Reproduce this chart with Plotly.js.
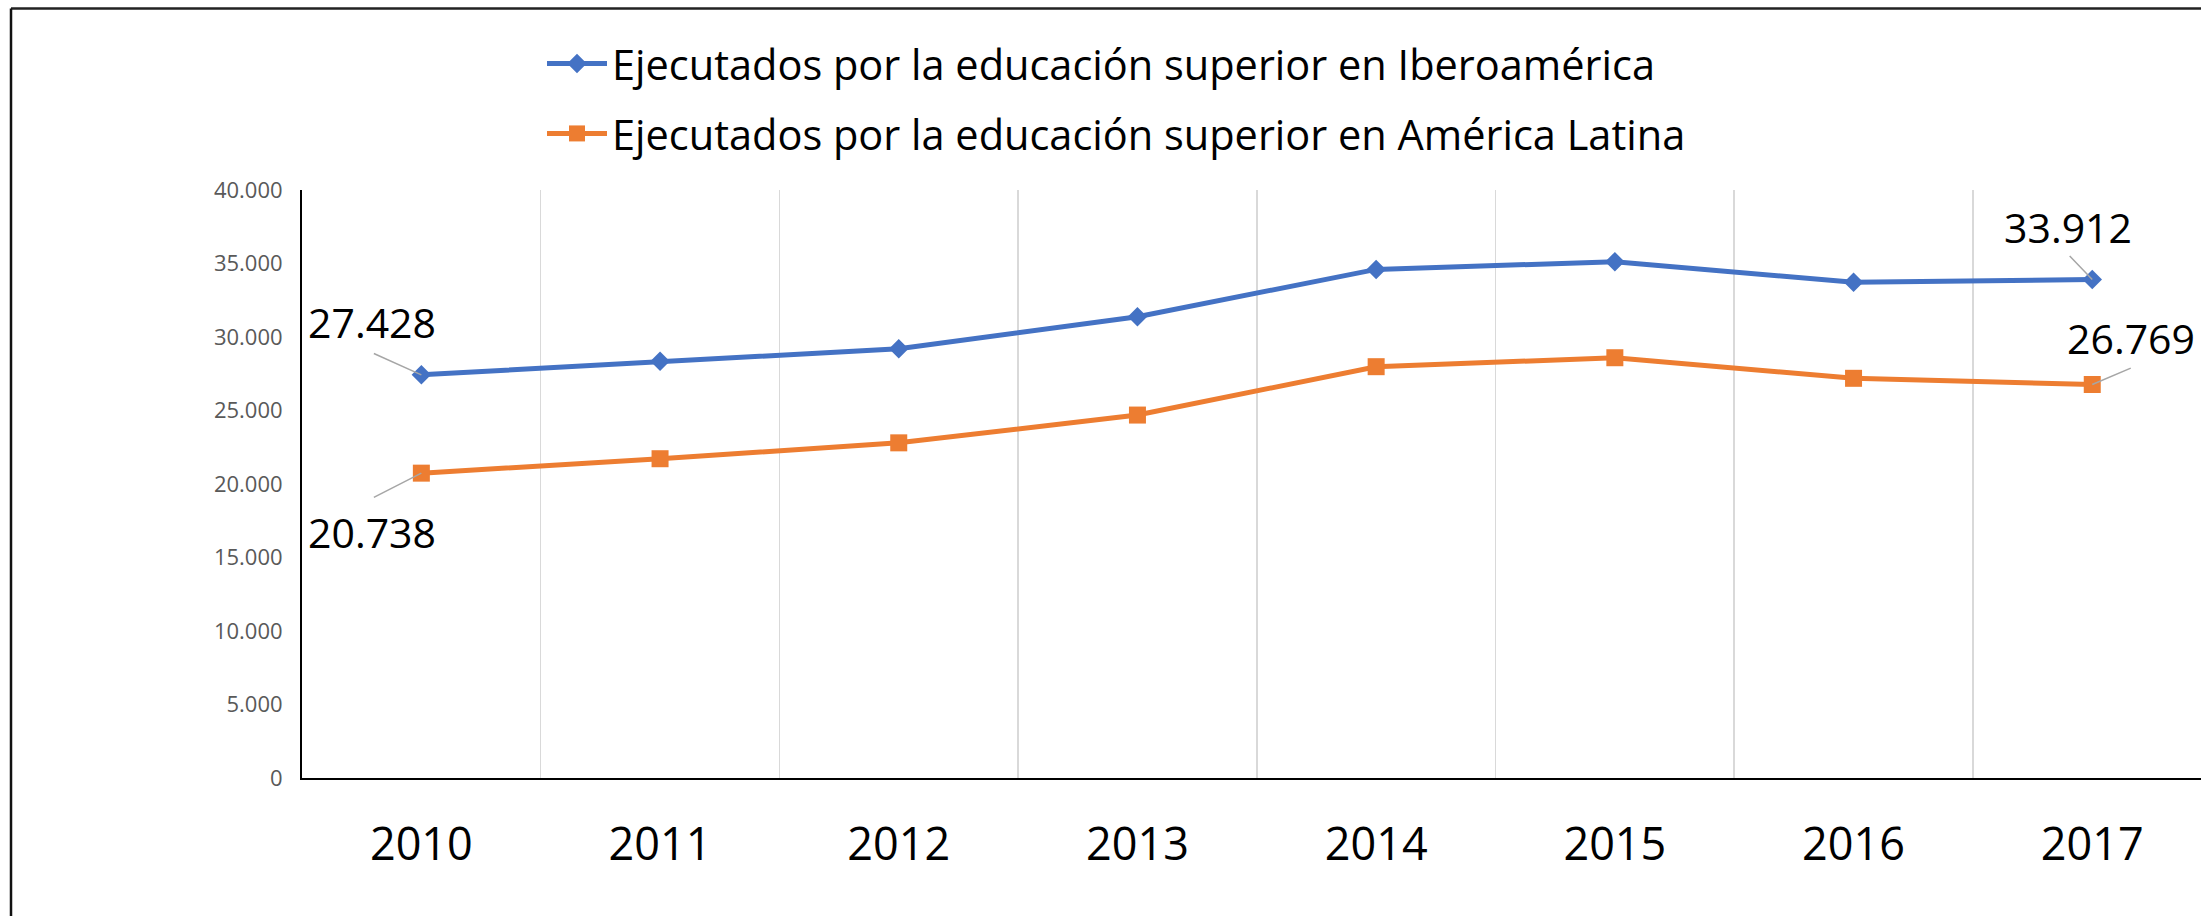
<!DOCTYPE html>
<html>
<head>
<meta charset="utf-8">
<script src="https://cdn.plot.ly/plotly-3.0.1.min.js"></script>
<style>
  html, body { margin: 0; padding: 0; background: #ffffff; }
  #chart { width: 2201px; height: 916px; }
</style>
</head>
<body>
<div id="chart"></div>
<script>
// ---- data ----
const years = ['2010', '2011', '2012', '2013', '2014', '2015', '2016', '2017'];
const seriesIbero = [27428, 28350, 29200, 31380, 34600, 35120, 33720, 33912];
const seriesLatam = [20738, 21720, 22800, 24690, 27980, 28590, 27190, 26769];
const nameIbero = 'Ejecutados por la educación superior en Iberoamérica';
const nameLatam = 'Ejecutados por la educación superior en América Latina';
const yTickValues = [0, 5000, 10000, 15000, 20000, 25000, 30000, 35000, 40000];

// ---- layout constants ----
const W = 2201, H = 916;
const M = { l: 302, r: 0, t: 190, b: 138 };
const plotW = W - M.l - M.r, plotH = H - M.t - M.b;
const px2paperX = px => (px - M.l) / plotW;
const px2paperY = py => 1 - (py - M.t) / plotH;

function fmt(v) {
  return String(v).replace(/\B(?=(\d{3})+(?!\d))/g, '.');
}

const FONT = 'Open Sans, Liberation Sans, sans-serif';
const BLUE = '#4472C4', ORANGE = '#ED7D31';

const traces = [
  {
    x: years, y: seriesIbero, name: nameIbero, type: 'scatter', mode: 'lines+markers',
    legendgroup: 'a',
    line: { color: BLUE, width: 5 },
    marker: { symbol: 'diamond', size: 15, color: BLUE }
  },
  {
    x: years, y: seriesLatam, name: nameLatam, type: 'scatter', mode: 'lines+markers',
    legendgroup: 'b',
    line: { color: ORANGE, width: 5 },
    marker: { symbol: 'square', size: 17, color: ORANGE }
  }
];

const last = years.length - 1;
// category axis: annotations use the category index
function label(idx, yv, tx, ty, lx, ly) {
  return [
    { // leader line
      x: idx, y: yv, xref: 'x', yref: 'y', text: '', showarrow: true,
      arrowhead: 0, arrowwidth: 1.5, arrowcolor: '#A6A6A6', ax: lx, ay: ly, standoff: 0
    },
    { // value text
      x: idx, y: yv, xref: 'x', yref: 'y', text: fmt(yv), showarrow: false,
      xshift: tx, yshift: -ty,
      font: { family: FONT, size: 41, color: '#000000' }
    }
  ];
}

const annotations = [].concat(
  label(0, seriesIbero[0], -49, -53, -49, -22),
  label(0, seriesLatam[0], -49, 59, -49, 25),
  label(last, seriesIbero[last], -24, -52, -24, -25),
  label(last, seriesLatam[last], 39, -47, 40, -17)
);

const shapes = [
  { type: 'line', xref: 'paper', yref: 'paper',
    x0: px2paperX(11), x1: px2paperX(W + 5), y0: px2paperY(8.5), y1: px2paperY(8.5),
    line: { color: '#222222', width: 2.5 } },
  { type: 'line', xref: 'paper', yref: 'paper',
    x0: px2paperX(11), x1: px2paperX(11), y0: px2paperY(8.5), y1: px2paperY(H + 5),
    line: { color: '#111111', width: 2.5 } }
];

const layout = {
  width: W, height: H,
  margin: M,
  paper_bgcolor: '#ffffff', plot_bgcolor: '#ffffff',
  separators: ',.',
  font: { family: FONT, color: '#000000' },
  showlegend: true,
  legend: {
    x: px2paperX(542), y: px2paperY(30), xanchor: 'left', yanchor: 'top',
    orientation: 'v', traceorder: 'grouped', tracegroupgap: 13,
    font: { family: FONT, size: 41.5, color: '#000000' },
    bgcolor: 'rgba(0,0,0,0)', borderwidth: 0, itemwidth: 60
  },
  xaxis: {
    type: 'category', range: [-0.5, -0.5 + plotW / 238.7],
    tickson: 'boundaries', ticks: '', showgrid: true, gridcolor: '#D9D9D9', gridwidth: 1.5,
    showline: true, linecolor: '#000000', linewidth: 2, zeroline: false,
    tickfont: { family: FONT, size: 45, color: '#000000' },
    ticklabelstandoff: 26, fixedrange: true
  },
  yaxis: {
    range: [0, 40000], tickvals: yTickValues, tickformat: ',d',
    ticks: '', showgrid: false, zeroline: false,
    showline: true, linecolor: '#000000', linewidth: 2,
    tickfont: { family: FONT, size: 22, color: '#595959' },
    ticklabelstandoff: 13, fixedrange: true
  },
  annotations: annotations,
  shapes: shapes
};

Plotly.newPlot('chart', traces, layout, { displayModeBar: false, staticPlot: true });
</script>
</body>
</html>
